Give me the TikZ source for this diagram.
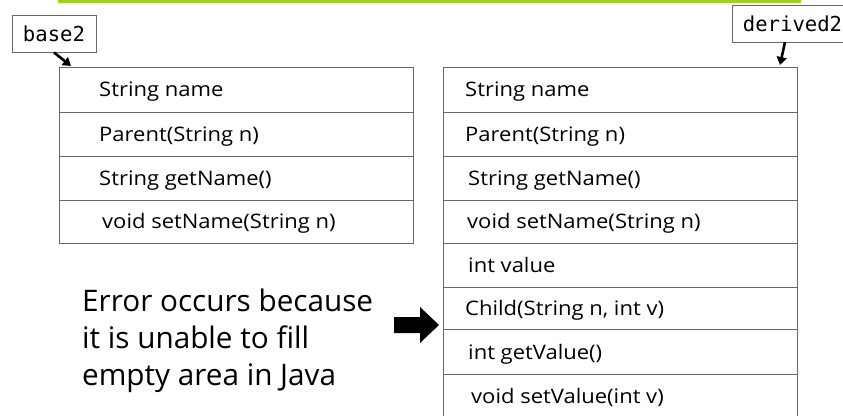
\documentclass[tikz,border=0pt]{standalone}
\usepackage{fontspec}
\setmainfont{Open Sans}
\newfontfamily\cellfont[FakeStretch=1.1]{Open Sans}
\newfontfamily\codefont{DejaVu Sans Mono}
\usetikzlibrary{arrows.meta}
\definecolor{framegreen}{RGB}{160,208,40}
\definecolor{rulegray}{RGB}{105,105,105}
\begin{document}
\begin{tikzpicture}[x=1pt,y=-1pt,
  cellbox/.style={draw=rulegray, line width=1pt, minimum width=354pt, inner sep=0pt, anchor=north west},
  celltext/.style={anchor=base west, inner sep=0pt, font=\cellfont\fontsize{20}{22}\selectfont},
  tag/.style={draw=rulegray, line width=0.9pt, fill=white, inner sep=0pt,
              font=\codefont\fontsize{20.6}{24}\selectfont},
  pointer/.style={line width=2.6pt, -{Triangle[length=8pt,width=10pt]}},
  note/.style={anchor=base west, inner sep=0pt, align=left,
               font=\fontsize{29.7}{37}\selectfont}
]
\useasboundingbox (0,0) rectangle (843,415);
\clip (0,0) rectangle (843,415);

% frame along the top edge
\draw[framegreen, line width=3pt] (59,-20) rectangle (799,1.5);

% object of class Parent
\node[cellbox, minimum height=45pt] (L1) at (59,67)  {};
\node[cellbox, minimum height=44pt] (L2) at (59,112) {};
\node[cellbox, minimum height=44pt] (L3) at (59,156) {};
\node[cellbox, minimum height=43pt] (L4) at (59,200) {};
\node[celltext] (L1t) at (99,96.5)  {String name};
\node[celltext] (L2t) at (99,141)   {Parent(String n)};
\node[celltext] (L3t) at (99,185)   {String getName()};
\node[celltext] (L4t) at (102,228.5) {void setName(String n)};

% object of class Child
\node[cellbox, minimum height=45pt] (R1) at (443,67)  {};
\node[cellbox, minimum height=44pt] (R2) at (443,112) {};
\node[cellbox, minimum height=44pt] (R3) at (443,156) {};
\node[cellbox, minimum height=43pt] (R4) at (443,200) {};
\node[cellbox, minimum height=44pt] (R5) at (443,243) {};
\node[cellbox, minimum height=42pt] (R6) at (443,287) {};
\node[cellbox, minimum height=45pt] (R7) at (443,329) {};
\node[cellbox, minimum height=60pt] (R8) at (443,374) {};
\node[celltext] (R1t) at (465,96.5)  {String name};
\node[celltext] (R2t) at (465,141)   {Parent(String n)};
\node[celltext] (R3t) at (468,185)   {String getName()};
\node[celltext] (R4t) at (467,228.5) {void setName(String n)};
\node[celltext] (R5t) at (468,272)   {int value};
\node[celltext] (R6t) at (465,315)   {Child(String n, int v)};
\node[celltext] (R7t) at (468,359)   {int getValue()};
\node[celltext] (R8t) at (471,403)   {void setValue(int v)};

% reference variables
\node[tag, minimum width=84pt, minimum height=37pt] (base2) at (54,33.5) {base2};
\node[tag, minimum width=121pt, minimum height=37pt] (derived2) at (792.5,23.5) {derived2};
\coordinate (b2tip) at (71,66);
\coordinate (d2tail) at (785,42);
\coordinate (d2tip) at (780,65);
\draw[pointer] (base2.south) -- (b2tip);
\draw[pointer] (d2tail) -- (d2tip);

% explanation and block arrow
\node[note] (err) at (82,385) {Error occurs because\\it is unable to fill\\empty area in Java};
\fill (394,317) -- (420,317) -- (420,307) -- (439,325) -- (420,343) -- (420,333) -- (394,333) -- cycle;
\end{tikzpicture}
\end{document}
